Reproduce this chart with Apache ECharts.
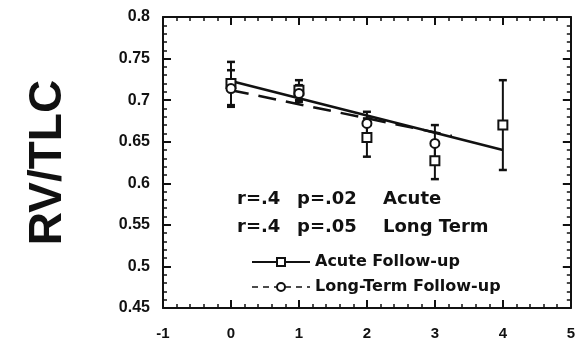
<!DOCTYPE html>
<html>
<head>
<meta charset="utf-8">
<script src="https://cdn.jsdelivr.net/npm/echarts@6/dist/echarts.min.js"></script>
<style>
  html, body { margin: 0; padding: 0; background: #fff; }
  #chart { width: 578px; height: 350px; }
</style>
</head>
<body>
<div id="chart"></div>
<script>
// follow-up points, RV/TLC means and error half-widths
const acuteX = [0, 1, 2, 3, 4];
const acuteY = [0.720, 0.712, 0.655, 0.627, 0.670];
const acuteErr = [0.026, 0.012, 0.023, 0.022, 0.054];

const longX = [0, 1, 2, 3];
const longY = [0.714, 0.708, 0.672, 0.648];
const longErr = [0.022, 0.010, 0.014, 0.022];

// regression lines (end points)
const acuteFit = [[0, 0.723], [4, 0.640]];
const longFit = [[0, 0.712], [3.25, 0.657]];

const statsLines = [
  ['r=.4', 'p=.02', 'Acute'],
  ['r=.4', 'p=.05', 'Long Term'],
];

const FONT = '"Liberation Sans", Arial, sans-serif';
const WIDE = '"DejaVu Sans", sans-serif';
const INK = '#111';

const chart = echarts.init(document.getElementById('chart'));

function errBar(params, api) {
  const x = api.value(0);
  const y = api.value(1);
  const e = api.value(2);
  const top = api.coord([x, y + e]);
  const bot = api.coord([x, y - e]);
  const cap = 4;
  const style = { stroke: INK, lineWidth: 2 };
  return {
    type: 'group',
    children: [
      { type: 'line', shape: { x1: top[0], y1: top[1], x2: bot[0], y2: bot[1] }, style },
      { type: 'line', shape: { x1: top[0] - cap, y1: top[1], x2: top[0] + cap, y2: top[1] }, style: { stroke: INK, lineWidth: 2.5 } },
      { type: 'line', shape: { x1: bot[0] - cap, y1: bot[1], x2: bot[0] + cap, y2: bot[1] }, style: { stroke: INK, lineWidth: 2.5 } },
    ],
  };
}

const baseAxis = {
  axisLine: { show: true, onZero: false, lineStyle: { color: INK, width: 2 } },
  axisTick: { show: true, inside: true, length: 8, lineStyle: { color: INK, width: 2 } },
  minorTick: { show: true, splitNumber: 5, length: 4, lineStyle: { color: INK, width: 1.5 } },
  splitLine: { show: false },
};

const statsGraphics = [];
statsLines.forEach((row, i) => {
  const lefts = [237, 297, 383];
  row.forEach((t, j) => {
    statsGraphics.push({
      type: 'text',
      left: lefts[j],
      top: 190 + i * 28,
      style: { text: t, font: 'bold 18px ' + WIDE, fill: INK },
    });
  });
});

const option = {
  backgroundColor: '#fff',
  animation: false,
  grid: { left: 163, right: 4, top: 17, bottom: 42 },
  legend: {
    left: 246,
    top: 249,
    orient: 'vertical',
    itemWidth: 58,
    itemHeight: 10,
    itemGap: 9,
    data: [
      { name: 'Acute Follow-up' },
      { name: 'Long-Term Follow-up', lineStyle: { type: [6, 5], width: 1.5 } },
    ],
    textStyle: { fontFamily: WIDE, fontSize: 16, fontWeight: 'bold', color: INK },
  },
  xAxis: [
    Object.assign({}, baseAxis, {
      type: 'value', min: -1, max: 5, interval: 1,
      axisLabel: { color: INK, fontFamily: FONT, fontWeight: 'bold', fontSize: 15, margin: 18 },
    }),
    Object.assign({}, baseAxis, {
      type: 'value', position: 'top', min: -1, max: 5, interval: 1,
      axisLabel: { show: false },
    }),
  ],
  yAxis: [
    Object.assign({}, baseAxis, {
      type: 'value', min: 0.45, max: 0.8, interval: 0.05,
      name: 'RV/TLC', nameLocation: 'middle', nameGap: 92, nameRotate: 90,
      nameTextStyle: { fontFamily: FONT, fontWeight: 'bold', fontSize: 46, color: INK },
      axisLabel: { color: INK, fontFamily: FONT, fontWeight: 'bold', fontSize: 16, margin: 13,
        formatter: v => String(Math.round(v * 100) / 100) },
    }),
    Object.assign({}, baseAxis, {
      type: 'value', position: 'right', min: 0.45, max: 0.8, interval: 0.05,
      axisLabel: { show: false },
    }),
  ],
  series: [
    {
      name: 'Acute Follow-up', type: 'line', data: acuteFit,
      symbol: 'emptyRect', symbolSize: 9, showSymbol: false,
      lineStyle: { color: INK, width: 2.5 }, itemStyle: { color: INK, borderWidth: 1.5 },
      z: 3,
    },
    {
      name: 'Long-Term Follow-up', type: 'line', data: longFit,
      symbol: 'emptyCircle', symbolSize: 8, showSymbol: false,
      lineStyle: { color: INK, width: 2.5, type: [18, 10] }, itemStyle: { color: INK, borderWidth: 1.5 },
      z: 3,
    },
    {
      type: 'custom', renderItem: errBar, z: 2,
      data: acuteX.map((x, i) => [x, acuteY[i], acuteErr[i]]),
    },
    {
      type: 'custom', renderItem: errBar, z: 2,
      data: longX.map((x, i) => [x, longY[i], longErr[i]]),
    },
    {
      type: 'scatter', symbol: 'rect', symbolSize: 9,
      itemStyle: { color: '#fff', borderColor: INK, borderWidth: 2, opacity: 1 },
      data: acuteX.map((x, i) => [x, acuteY[i]]), z: 4,
    },
    {
      type: 'scatter', symbol: 'circle', symbolSize: 9,
      itemStyle: { color: '#fff', borderColor: INK, borderWidth: 2, opacity: 1 },
      data: longX.map((x, i) => [x, longY[i]]), z: 4,
    },
  ],
  graphic: statsGraphics,
};

chart.setOption(option);
</script>
</body>
</html>
